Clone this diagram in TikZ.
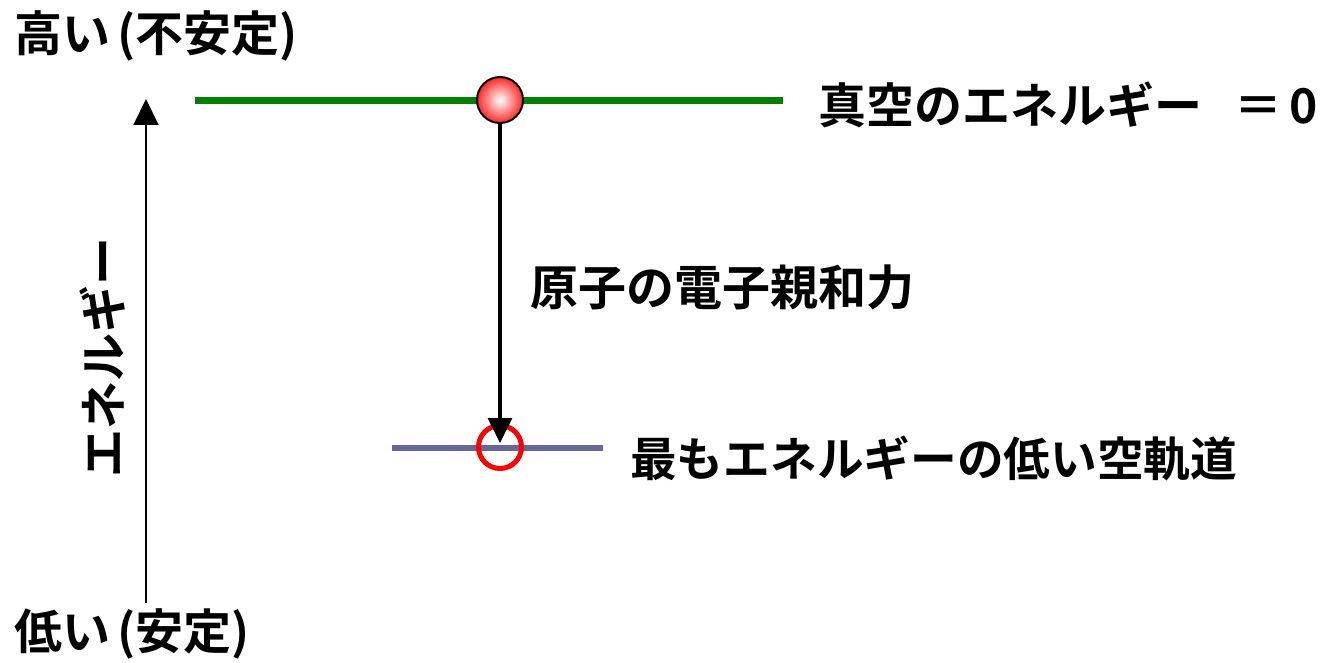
\documentclass[tikz,border=0pt]{standalone}
\usepackage{fontspec}
\setmainfont{Noto Sans CJK JP}[BoldFont={Noto Sans CJK JP Bold}]
\usetikzlibrary{arrows.meta}
\definecolor{lvgreen}{RGB}{0,128,0}
\definecolor{lvpurple}{RGB}{102,102,153}
\tikzset{
  lbl/.style={font=\fontsize{48}{52}\selectfont\bfseries, inner sep=0pt, anchor=west, text=black},
  level/.style={line width=7pt},
}
\begin{document}
\begin{tikzpicture}[x=1pt,y=-1pt]
\useasboundingbox (0,0) rectangle (1324,663);
% levels
\coordinate (g1) at (195,101);
\coordinate (g2) at (783,101);
\draw[level, lvgreen] (g1) -- (g2);
\coordinate (p1) at (392,448);
\coordinate (p2) at (603,448);
\draw[line width=6pt, lvpurple] (p1) -- (p2);
% empty orbital
\node[circle, draw=red, line width=5pt, minimum size=43pt, inner sep=0pt] (hole) at (500,447) {};
% electron
\node[circle, draw=black, line width=2pt, minimum size=46pt, inner sep=0pt,
      shade, shading=radial, inner color=white, outer color=red!85!white] (ball) at (500,100) {};
% arrow
\coordinate (tipend) at (500,443);
\draw[line width=3.5pt, -{Triangle[length=25pt,width=24pt]}] (ball.south) -- (tipend);
% axis
\coordinate (axbot) at (146,603);
\coordinate (axtop) at (146,99);
\draw[line width=2pt, -{Triangle[length=26pt,width=25pt]}] (axbot) -- (axtop);
% texts
\node[lbl] (hi) at (14,36) {高い\hspace{7pt}(不安定)};
\node[lbl] (lo) at (14,634) {低い\hspace{7pt}(安定)};
\node[lbl] (vac) at (818,105) {真空のエネルギー\hspace{32pt}＝\hspace{7pt}0};
\node[lbl] (ea) at (530,287) {原子の電子親和力};
\node[lbl, font=\fontsize{46.7}{50}\selectfont\bfseries] (lumo) at (630,458) {最もエネルギーの低い空軌道};
\node[lbl, anchor=center, rotate=90] (en) at (103,357) {エネルギー};
\end{tikzpicture}
\end{document}
